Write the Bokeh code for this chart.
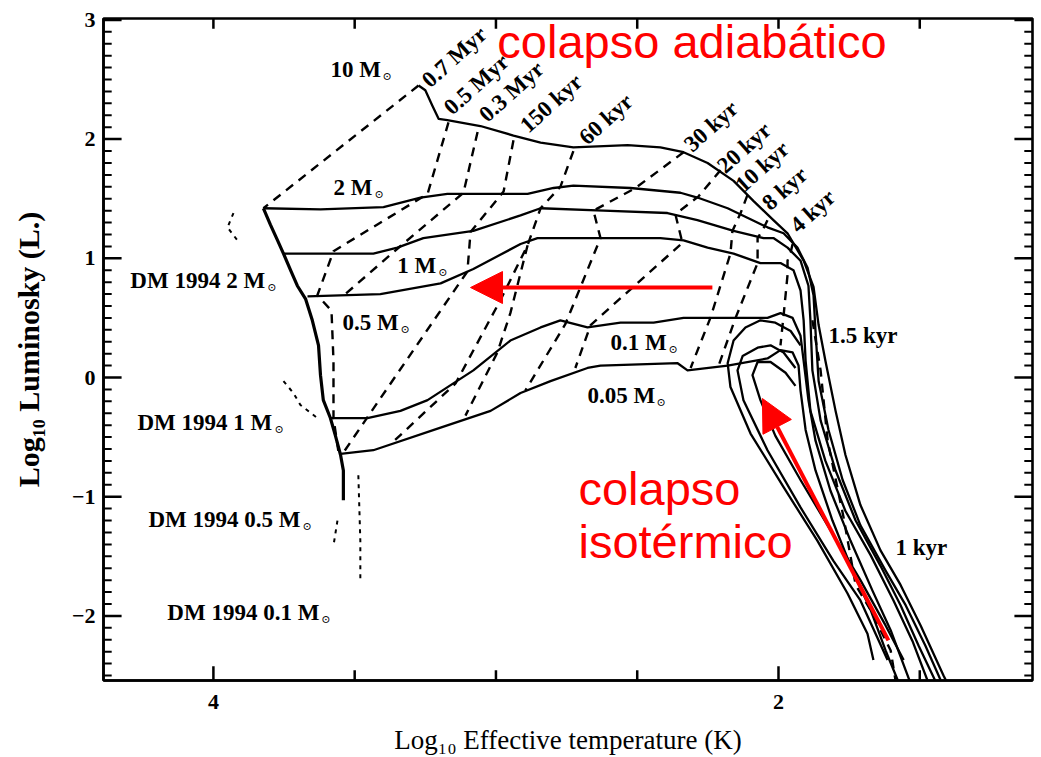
import math
from bokeh.plotting import figure
from bokeh.models import Range1d, FixedTicker, Label, Arrow, NormalHead, ColumnDataSource
from bokeh.core.properties import value
from bokeh.embed import file_html
from bokeh.resources import INLINE

# ---------------- data: (log10 Teff, log10 L) ----------------
# evolutionary tracks (solid)
track_10M_T = [3.274, 3.250, 3.225, 3.203, 3.172, 3.055, 2.938, 2.842, 2.726, 2.534, 2.418, 2.336, 2.251, 2.159, 2.088,
               2.018, 1.968, 1.911, 1.876, 1.858, 1.834, 1.798, 1.763, 1.710, 1.639, 1.568, 1.497, 1.416, 1.391]
track_10M_L = [2.45, 2.41, 2.28, 2.17, 2.16, 2.11, 2.03, 1.97, 1.93, 1.95, 1.93, 1.89, 1.80, 1.65, 1.48,
               1.32, 1.21, 0.98, 0.76, 0.44, 0.14, -0.28, -0.65, -1.07, -1.45, -1.74, -2.08, -2.50, -2.62]

track_2M_T = [3.823, 3.621, 3.398, 3.267, 3.172, 2.888, 2.796, 2.726, 2.524, 2.347, 2.287, 2.180, 2.110, 2.039,
              1.982, 1.933, 1.897, 1.876, 1.869, 1.858, 1.823, 1.773, 1.710, 1.621, 1.550, 1.480, 1.411]
track_2M_L = [1.42, 1.41, 1.43, 1.51, 1.54, 1.54, 1.59, 1.61, 1.59, 1.55, 1.51, 1.42, 1.34, 1.26,
              1.21, 1.09, 0.92, 0.69, 0.39, -0.03, -0.44, -0.86, -1.24, -1.62, -1.91, -2.25, -2.62]

track_1M_T = [3.752, 3.434, 3.349, 3.257, 3.080, 2.913, 2.842, 2.619, 2.393, 2.287, 2.159, 2.053, 2.018, 1.968,
              1.922, 1.894, 1.887, 1.880, 1.851, 1.798, 1.727, 1.639, 1.568, 1.504, 1.430]
track_1M_L = [1.04, 1.04, 1.09, 1.17, 1.23, 1.36, 1.42, 1.40, 1.38, 1.32, 1.23, 1.17, 1.17, 1.09,
              0.98, 0.77, 0.48, 0.06, -0.36, -0.78, -1.20, -1.58, -1.91, -2.25, -2.62]

track_05M_T = [3.667, 3.409, 3.196, 3.080, 2.913, 2.853, 2.630, 2.418, 2.336, 2.251, 2.159, 2.064, 1.993, 1.947,
               1.922, 1.911, 1.904, 1.887, 1.834, 1.763, 1.674, 1.593, 1.526, 1.460]
track_05M_L = [0.68, 0.70, 0.79, 0.91, 1.12, 1.17, 1.17, 1.17, 1.15, 1.09, 1.04, 0.96, 0.96, 0.90,
               0.73, 0.48, 0.14, -0.28, -0.70, -1.12, -1.49, -1.87, -2.21, -2.62]

track_01M_T = [3.586, 3.455, 3.338, 3.242, 3.080, 2.949, 2.842, 2.772, 2.676, 2.559, 2.442, 2.336, 2.205, 2.039,
               1.993, 1.950, 1.922, 1.911, 1.894, 1.869, 1.816, 1.745, 1.667, 1.603, 1.524]
track_01M_L = [-0.34, -0.34, -0.28, -0.19, 0.06, 0.31, 0.42, 0.48, 0.42, 0.46, 0.46, 0.50, 0.50, 0.50,
               0.54, 0.50, 0.35, 0.14, -0.19, -0.53, -0.95, -1.37, -1.79, -2.12, -2.62]

track_005M_T = [3.550, 3.434, 3.196, 3.019, 2.913, 2.807, 2.676, 2.630, 2.357, 2.322, 2.180, 2.039, 1.993, 1.950,
                1.929, 1.922, 1.904, 1.869, 1.809, 1.738, 1.674, 1.621, 1.564]
track_005M_L = [-0.64, -0.61, -0.42, -0.28, -0.13, -0.03, 0.08, 0.10, 0.12, 0.06, 0.10, 0.16, 0.23, 0.21,
                0.10, -0.11, -0.44, -0.78, -1.20, -1.62, -1.95, -2.29, -2.62]

# isothermal-collapse loops of the low-mass tracks
loop_a_T = [1.664, 1.685, 1.756, 1.862, 1.982, 2.099, 2.170, 2.180, 2.159, 2.117, 2.064, 2.011, 1.957, 1.922]
loop_a_L = [-2.37, -2.15, -1.81, -1.37, -0.92, -0.47, -0.08, 0.12, 0.31, 0.42, 0.48, 0.46, 0.39, 0.27]
loop_b_T = [1.614, 1.710, 1.805, 1.922, 2.039, 2.124, 2.145, 2.127, 2.074, 2.028, 1.982, 1.940]
loop_b_L = [-2.37, -1.87, -1.54, -1.09, -0.61, -0.19, 0.06, 0.18, 0.25, 0.27, 0.21, 0.08]
loop_c_T = [1.557, 1.621, 1.710, 1.816, 1.922, 2.011, 2.064, 2.092, 2.074, 2.028, 1.975, 1.940]
loop_c_L = [-2.37, -2.08, -1.70, -1.28, -0.86, -0.49, -0.19, 0.02, 0.13, 0.13, 0.04, -0.07]

# hot edge (end points of the tracks)
edge_T = [3.823, 3.798, 3.773, 3.752, 3.727, 3.703, 3.674, 3.650, 3.628, 3.621, 3.611, 3.586, 3.568, 3.550, 3.540, 3.540]
edge_L = [1.42, 1.28, 1.15, 1.04, 0.90, 0.77, 0.66, 0.48, 0.27, 0.02, -0.19, -0.34, -0.49, -0.65, -0.78, -1.03]

# isochrones (dashed)
iso_07Myr_T = [3.274, 3.823]
iso_07Myr_L = [2.45, 1.42]
iso_05Myr_T = [3.168, 3.242, 3.575, 3.632, 3.582, 3.575, 3.575, 3.557]
iso_05Myr_L = [2.14, 1.54, 1.06, 0.69, 0.56, 0.14, -0.34, -0.63]
iso_03Myr_T = [3.065, 3.115, 3.349, 3.533]
iso_03Myr_L = [2.06, 1.55, 1.08, 0.70]
iso_150kyr_T = [2.938, 2.973, 3.090, 3.101, 3.451, 3.540]
iso_150kyr_L = [1.99, 1.56, 1.22, 0.89, -0.32, -0.63]
iso_60kyr_T = [2.726, 2.772, 2.842, 2.888, 2.984, 3.143, 3.373]
iso_60kyr_L = [1.90, 1.60, 1.42, 1.11, 0.65, -0.05, -0.56]
iso_45kyr_T = [2.888, 2.949, 2.995, 3.108]
iso_45kyr_L = [1.11, 0.54, 0.21, -0.32]
iso_30kyr_T = [2.336, 2.506, 2.655, 2.630, 2.754, 2.896]
iso_30kyr_L = [1.89, 1.59, 1.40, 1.17, 0.45, -0.11]
iso_20kyr_T = [2.205, 2.283, 2.365, 2.340, 2.665, 2.719]
iso_20kyr_L = [1.74, 1.52, 1.37, 1.13, 0.44, 0.08]
iso_10kyr_T = [2.110, 2.134, 2.163, 2.170, 2.241, 2.311]
iso_10kyr_L = [1.53, 1.38, 1.23, 1.04, 0.50, 0.08]
iso_8kyr_T = [2.039, 2.053, 2.074, 2.074, 2.152, 2.212]
iso_8kyr_L = [1.32, 1.25, 1.17, 0.96, 0.50, 0.10]
iso_4kyr_T = [1.950, 1.957, 1.968, 1.968, 1.982, 1.993]
iso_4kyr_L = [1.12, 1.05, 0.98, 0.86, 0.52, 0.27]
iso_15kyr_T = [1.880, 1.851, 1.826, 1.770, 1.727, 1.674, 1.603, 1.586]
iso_15kyr_L = [0.48, 0.06, -0.53, -1.17, -1.74, -1.95, -2.29, -2.54]

# D'Antona & Mazzitelli 1994 track fragments (dotted)
dm_2M_T = [3.929, 3.950, 3.915]
dm_2M_L = [1.38, 1.26, 1.15]
dm_1M_T = [3.752, 3.717, 3.692, 3.632]
dm_1M_L = [-0.03, -0.13, -0.23, -0.34]
dm_05M_T = [3.561, 3.575]
dm_05M_L = [-1.20, -1.41]
dm_01M_T = [3.487, 3.480, 3.480]
dm_01M_L = [-0.82, -1.37, -1.70]

# text labels
mass_labels = ["10 M", "2 M", "1 M", "0.5 M", "0.1 M", "0.05 M",
               "DM 1994 2 M", "DM 1994 1 M", "DM 1994 0.5 M", "DM 1994 0.1 M"]
mass_label_T = [3.586, 3.575, 3.349, 3.543, 2.595, 2.676, 4.294, 4.269, 4.230, 4.163]
mass_label_L = [2.58, 1.59, 0.94, 0.46, 0.29, -0.15, 0.81, -0.38, -1.19, -1.97]
mass_label_sun_dx = [52, 41, 41, 58, 58, 69, 137, 137, 154, 154]

age_labels = ["0.7 Myr", "0.5 Myr", "0.3 Myr", "150 kyr", "60 kyr", "30 kyr", "20 kyr", "10 kyr", "8 kyr", "4 kyr"]
age_label_T = [3.250, 3.172, 3.048, 2.903, 2.694, 2.322, 2.205, 2.141, 2.046, 1.947]
age_label_L = [2.47, 2.24, 2.18, 2.09, 1.99, 1.93, 1.75, 1.59, 1.44, 1.25]

flat_age_labels = ["1.5 kyr", "1 kyr"]
flat_age_label_T = [1.823, 1.586]
flat_age_label_L = [0.35, -1.43]

# annotations
adiabatic_text = "colapso adiabático"
adiabatic_pos = (2.995, 2.82)
isothermal_lines = ["colapso", "isotérmico"]
isothermal_pos = [(2.708, -0.93), (2.708, -1.38)]
arrow_adiabatic = (2.234, 0.755, 3.090, 0.755)
arrow_isothermal = (1.611, -2.206, 2.057, -0.176)

# axes / ticks
X_LO, X_HI = 4.389, 1.101
Y_LO, Y_HI = -2.542, 3.012
x_major_ticks = [4, 2]
x_minor_ticks = [3.5, 3, 2.5, 1.5]
y_major_ticks = [-2, -1, 0, 1, 2, 3]
y_minor_ticks = [round(-2.5 + 0.1 * i, 1) for i in range(56) if abs(round(-2.5 + 0.1 * i, 1) % 1) > 1e-9]

# ---------------- figure ----------------
SERIF = "Liberation Serif"
p = figure(width=1040, height=757, x_range=Range1d(X_LO, X_HI), y_range=Range1d(Y_LO, Y_HI),
           output_backend="svg", toolbar_location=None,
           min_border_left=103, min_border_right=8, min_border_top=18, min_border_bottom=77)
p.xgrid.visible = False
p.ygrid.visible = False
p.outline_line_color = "black"
p.outline_line_width = 2.6
p.background_fill_color = "white"
p.border_fill_color = "white"


def style_axis(ax, ticker):
    ax.ticker = ticker
    ax.axis_line_width = 2.6
    ax.axis_line_color = "black"
    ax.major_tick_in = 0
    ax.major_tick_out = 0
    ax.minor_tick_in = 0
    ax.minor_tick_out = 0
    ax.major_label_text_font = SERIF
    ax.major_label_text_font_style = "bold"
    ax.major_label_text_color = "black"
    ax.major_label_text_font_size = "22px"


style_axis(p.xaxis[0], FixedTicker(ticks=x_major_ticks, minor_ticks=[]))
p.xaxis[0].major_label_standoff = 14
p.xaxis[0].axis_label = "Log\u2081\u2080 Effective temperature (K)"
p.xaxis[0].axis_label_text_font = SERIF
p.xaxis[0].axis_label_text_font_style = "normal"
p.xaxis[0].axis_label_text_font_size = "27px"
p.xaxis[0].axis_label_text_color = "black"
p.xaxis[0].axis_label_standoff = 13

style_axis(p.yaxis[0], FixedTicker(ticks=y_major_ticks, minor_ticks=[]))
p.yaxis[0].major_label_standoff = 8
p.yaxis[0].major_label_overrides = {-1: "\u22121", -2: "\u22122"}
p.yaxis[0].axis_label = "Log\u2081\u2080 Luminosky (L.)"
p.yaxis[0].axis_label_text_font = SERIF
p.yaxis[0].axis_label_text_font_style = "bold"
p.yaxis[0].axis_label_text_font_size = "30px"
p.yaxis[0].axis_label_text_color = "black"
p.yaxis[0].axis_label_standoff = 24

# inward tick marks on all four sides (lengths in data units)
XT_MAJ, XT_MIN = 0.12, 0.085     # vertical length of ticks on the T axis
YT_MAJ, YT_MIN = 0.064, 0.029    # horizontal length of ticks on the L axis
x_ticks_all = x_major_ticks + x_minor_ticks
x_tick_len_bottom = [XT_MAJ] * len(x_major_ticks) + [XT_MIN] * len(x_minor_ticks)
tick_src = dict(x0=[], y0=[], x1=[], y1=[], w=[])
for t, ln in zip(x_ticks_all, x_tick_len_bottom):
    tick_src["x0"] += [t, t]
    tick_src["x1"] += [t, t]
    tick_src["y0"] += [Y_LO, Y_HI]
    tick_src["y1"] += [Y_LO + ln, Y_HI - XT_MIN]
    tick_src["w"] += [2.5, 2.5]
for t, ln, w in [(v, YT_MAJ, 2.5) for v in y_major_ticks] + [(v, YT_MIN, 2.0) for v in y_minor_ticks]:
    tick_src["x0"] += [X_LO, X_HI]
    tick_src["x1"] += [X_LO - ln, X_HI + ln]
    tick_src["y0"] += [t, t]
    tick_src["y1"] += [t, t]
    tick_src["w"] += [w, w]
p.segment(x0="x0", y0="y0", x1="x1", y1="y1", line_width="w", line_color="black",
          source=ColumnDataSource(tick_src))

# tracks
for T, L in [(track_10M_T, track_10M_L), (track_2M_T, track_2M_L), (track_1M_T, track_1M_L),
             (track_05M_T, track_05M_L), (track_01M_T, track_01M_L), (track_005M_T, track_005M_L),
             (loop_a_T, loop_a_L), (loop_b_T, loop_b_L), (loop_c_T, loop_c_L)]:
    p.line(T, L, line_color="black", line_width=2.3, line_join="round")
p.line(edge_T, edge_L, line_color="black", line_width=3.2, line_join="round")

# isochrones
for T, L in [(iso_07Myr_T, iso_07Myr_L), (iso_05Myr_T, iso_05Myr_L), (iso_03Myr_T, iso_03Myr_L),
             (iso_150kyr_T, iso_150kyr_L), (iso_60kyr_T, iso_60kyr_L), (iso_45kyr_T, iso_45kyr_L),
             (iso_30kyr_T, iso_30kyr_L), (iso_20kyr_T, iso_20kyr_L), (iso_10kyr_T, iso_10kyr_L),
             (iso_8kyr_T, iso_8kyr_L), (iso_4kyr_T, iso_4kyr_L), (iso_15kyr_T, iso_15kyr_L)]:
    p.line(T, L, line_color="black", line_width=2.4, line_dash="9 7")

# DM 1994 fragments
for T, L in [(dm_2M_T, dm_2M_L), (dm_1M_T, dm_1M_L), (dm_05M_T, dm_05M_L), (dm_01M_T, dm_01M_L)]:
    p.line(T, L, line_color="black", line_width=2, line_dash="4 5")

# text
mass_src = ColumnDataSource(dict(x=mass_label_T, y=mass_label_L, text=mass_labels,
                                 dx=mass_label_sun_dx, sun=["\u2299"] * len(mass_labels)))
p.text(x="x", y="y", text="text", source=mass_src, text_font=value(SERIF), text_font_style="bold",
       text_font_size="23px", text_baseline="middle", text_align="left", text_color="black")
p.text(x="x", y="y", text="sun", source=mass_src, x_offset="dx", y_offset=7,
       text_font=value("DejaVu Serif"), text_font_size="11px", text_baseline="middle",
       text_align="left", text_color="black")

age_src = ColumnDataSource(dict(x=age_label_T, y=age_label_L, text=age_labels))
p.text(x="x", y="y", text="text", source=age_src, angle=math.radians(42), text_font=value(SERIF),
       text_font_style="bold", text_font_size="23px", text_baseline="alphabetic", text_align="left",
       text_color="black")

flat_src = ColumnDataSource(dict(x=flat_age_label_T, y=flat_age_label_L, text=flat_age_labels))
p.text(x="x", y="y", text="text", source=flat_src, text_font=value(SERIF), text_font_style="bold",
       text_font_size="23px", text_baseline="middle", text_align="left", text_color="black")

# red annotations
RED = "#ff0000"
p.add_layout(Label(x=adiabatic_pos[0], y=adiabatic_pos[1], text=adiabatic_text, text_font="Liberation Sans",
                   text_font_size="47px", text_color=RED, text_align="left", text_baseline="alphabetic"))
for t, (lx, ly) in zip(isothermal_lines, isothermal_pos):
    p.add_layout(Label(x=lx, y=ly, text=t, text_font="Liberation Sans", text_font_size="47px",
                       text_color=RED, text_align="left", text_baseline="alphabetic"))

for (xs, ys, xe, ye) in [arrow_adiabatic, arrow_isothermal]:
    p.add_layout(Arrow(end=NormalHead(size=32, fill_color=RED, line_color=RED, line_width=1),
                       x_start=xs, y_start=ys, x_end=xe, y_end=ye, line_color=RED, line_width=4))

open("out.html", "w").write(file_html(p, INLINE))
